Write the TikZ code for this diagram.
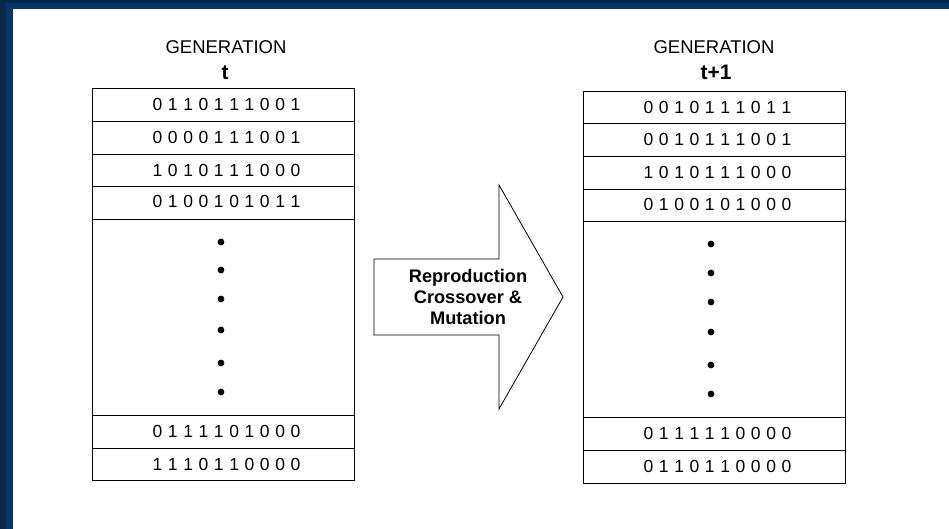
\documentclass[tikz,border=0pt]{standalone}
\usepackage{fontspec}
\setmainfont{Liberation Sans}
\definecolor{bordout}{HTML}{0A2748}
\definecolor{bordin}{HTML}{04366A}
\def\bitsA#1{\ifx#1\relax\else\hspace{5.6pt}#1\expandafter\bitsA\fi}
\def\bitsB#1{#1\bitsA}
\newcommand\bitstr[1]{\hspace{7pt}\bitsB#1\relax}
\begin{document}
\begin{tikzpicture}[x=1pt,y=-1pt,
  rowbox/.style={draw=black, line width=0.9pt, minimum width=262pt, inner sep=0pt,
    font=\fontsize{17.5}{20}\selectfont},
  hdr/.style={anchor=base, font=\fontsize{18.5}{22}\selectfont},
  hdrb/.style={anchor=base, font=\bfseries\fontsize{21}{24}\selectfont},
  dot/.style={fill=black},
  bigarrow/.style={draw=black, line width=0.8pt, fill=white, line join=miter}]
\useasboundingbox (0,0) rectangle (949,528);
\fill[bordout] (-5,-5) rectangle (960,540);
\fill[bordin] (6,3) rectangle (960,540);
\fill[white] (13,9) rectangle (960,540);

% left generation
\node[hdr] (genL) at (226,53) {GENERATION};
\node[hdrb] (tL) at (225,79) {t};
\node[rowbox, minimum height=33pt] (l1) at (223,104.5) {\bitstr{0110111001}};
\node[rowbox, minimum height=33pt] (l2) at (223,137.5) {\bitstr{0000111001}};
\node[rowbox, minimum height=32pt] (l3) at (223,170) {\bitstr{1010111000}};
\node[rowbox, minimum height=33pt, text depth=3pt] (l4) at (223,202.5) {\bitstr{0100101011}};
\node[rowbox, minimum height=196pt] (lm) at (223,317) {};
\node[rowbox, minimum height=33pt] (l5) at (223,431.5) {\bitstr{0111101000}};
\node[rowbox, minimum height=32pt] (l6) at (223,464) {\bitstr{1110110000}};
\foreach \yy in {242,270,299,330,363,392} \fill[dot] (221,\yy) circle (3.4);

% right generation
\node[hdr] (genR) at (714,53) {GENERATION};
\node[hdrb] (tR) at (716,79) {t+1};
\node[rowbox, minimum height=32pt] (r1) at (714,107) {\bitstr{0010111011}};
\node[rowbox, minimum height=33pt] (r2) at (714,139.5) {\bitstr{0010111001}};
\node[rowbox, minimum height=33pt] (r3) at (714,172.5) {\bitstr{1010111000}};
\node[rowbox, minimum height=32pt, text depth=2pt] (r4) at (714,205) {\bitstr{0100101000}};
\node[rowbox, minimum height=196pt] (rm) at (714,319) {};
\node[rowbox, minimum height=33pt] (r5) at (714,433.5) {\bitstr{0111110000}};
\node[rowbox, minimum height=33pt] (r6) at (714,466.5) {\bitstr{0110110000}};
\foreach \yy in {244,273,302,332,365,394} \fill[dot] (711,\yy) circle (3.4);

% arrow
\draw[bigarrow] (374,259) -- (499,259) -- (499,185) -- (563,297) -- (499,409) -- (499,335) -- (374,335) -- cycle;
\node[align=center, font=\bfseries\fontsize{18.2}{21}\selectfont] (op) at (468,297) {Reproduction\\Crossover \&\\Mutation};
\end{tikzpicture}
\end{document}
